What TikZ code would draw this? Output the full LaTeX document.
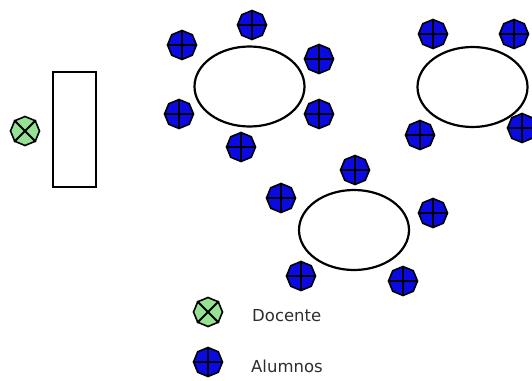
\documentclass[tikz,border=0pt]{standalone}
\usepackage{fontspec}
\setmainfont{DejaVu Sans}
\usetikzlibrary{shapes.geometric}
\definecolor{seatblue}{RGB}{10,10,225}
\definecolor{seatgreen}{RGB}{150,225,150}
\definecolor{labelgray}{RGB}{45,45,45}
\tikzset{
  seat/.style={regular polygon, regular polygon sides=8, shape border rotate=22.5,
    minimum size=29, inner sep=0pt, draw=black, line width=1.6pt},
  alumno/.style={seat, fill=seatblue},
  docente/.style={seat, fill=seatgreen},
  plus/.style={line width=1.2pt, line cap=butt},
  cross/.style={line width=1.8pt, line cap=butt},
  mesa/.style={ellipse, draw=black, line width=2.2pt, fill=white,
    minimum width=110, minimum height=80, inner sep=0pt},
  escritorio/.style={rectangle, draw=black, line width=2pt, fill=white,
    minimum width=43, minimum height=115, inner sep=0pt},
  leyenda/.style={anchor=west, inner sep=0pt, text=labelgray, font=\fontsize{16.5}{18}\selectfont}
}
\begin{document}
\begin{tikzpicture}[x=1pt,y=-1pt]
  \useasboundingbox (0,0) rectangle (532,380);

  % teacher desk and teacher
  \node[escritorio] (desk) at (74,129) {};
  \node[docente] (teacher) at (25,131) {};

  % table 1
  \node[mesa] (t1) at (249.5,86.5) {};
  \node[alumno] (a11) at (252,25) {};
  \node[alumno] (a12) at (182,45) {};
  \node[alumno] (a13) at (319,59) {};
  \node[alumno] (a14) at (179,114) {};
  \node[alumno] (a15) at (319,114) {};
  \node[alumno] (a16) at (241,147) {};

  % table 2
  \node[mesa] (t2) at (472.5,87) {};
  \node[alumno] (a21) at (433,34) {};
  \node[alumno] (a22) at (514,34) {};
  \node[alumno] (a23) at (420,135) {};
  \node[alumno] (a24) at (522,128) {};

  % table 3
  \node[mesa] (t3) at (354,230) {};
  \node[alumno] (a31) at (355,170) {};
  \node[alumno] (a32) at (281,198) {};
  \node[alumno] (a33) at (433,213) {};
  \node[alumno] (a34) at (301,276) {};
  \node[alumno] (a35) at (403,281) {};

  % legend
  \node[docente] (kd) at (208,312) {};
  \node[leyenda] (ld) at (252,316) {Docente};
  \node[alumno] (ka) at (208,362) {};
  \node[leyenda] (la) at (251,366) {Alumnos};

  % plus marks on the students
  \foreach \s in {a11,a12,a13,a14,a15,a16,a21,a22,a23,a24,a31,a32,a33,a34,a35,ka}
    \draw[plus] (\s.north) -- (\s.south) (\s.west) -- (\s.east);

  % cross marks on the teacher
  \foreach \s in {teacher,kd}
    \draw[cross] (\s.north west) -- (\s.south east) (\s.south west) -- (\s.north east);
\end{tikzpicture}
\end{document}
